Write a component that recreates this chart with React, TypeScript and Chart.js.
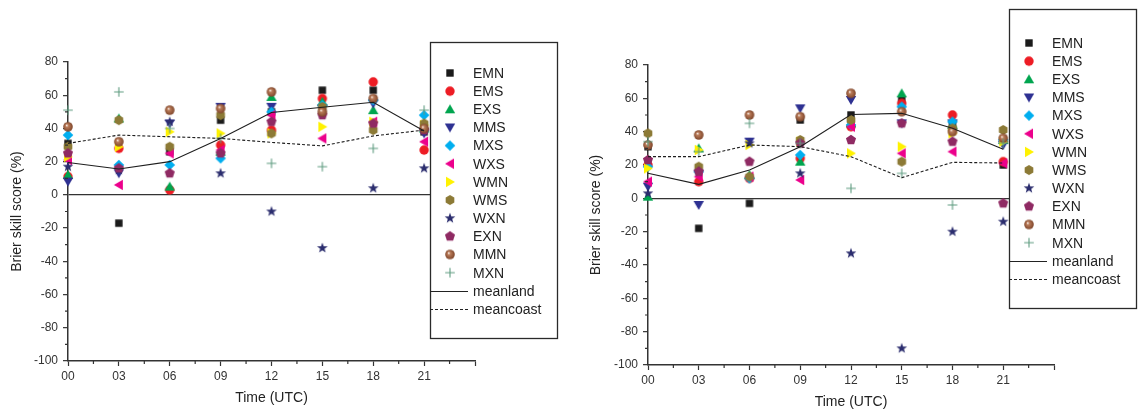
import React, { useEffect, useRef } from 'react';
import { Chart, registerables } from 'chart.js';
Chart.register(...registerables);

Chart.defaults.font.family = '"Liberation Sans", Arial, sans-serif';

// ---------- data ----------
const hours = [0, 3, 6, 9, 12, 15, 18, 21];
const xTickLabels = ['00', '03', '06', '09', '12', '15', '18', '21', ''];
const seriesNames = ['EMN', 'EMS', 'EXS', 'MMS', 'MXS', 'WXS', 'WMN', 'WMS', 'WXN', 'EXN', 'MMN', 'MXN'];

// left panel
const leftEMN = [31, -17, 26, 45, 50, 63, 63, 38];
const leftEMS = [11, 28, 3, 30, 39, 58, 68, 27];
const leftEXS = [12, 46, 5, 26, 59, 56, 51, 40];
const leftMMS = [8, 13, 43, 53, 53, 52, 55, 37];
const leftMXS = [36, 18, 18, 22, 50, 54, 57, 48];
const leftWXS = [21, 6, 25, 27, 48, 34, 44, 32];
const leftWMN = [23, 29, 38, 37, 37, 41, 44, 42];
const leftWMS = [29, 45, 29, 48, 37, 53, 39, 43];
const leftWXN = [17, 15, 44, 13, -10, -32, 4, 16];
const leftEXN = [25, 16, 13, 25, 44, 48, 43, 39];
const leftMMN = [41, 32, 51, 52, 62, 50, 58, 40];
const leftMXN = [51, 62, 40, 34, 19, 17, 28, 51];
const leftMeanland = [19.5, 15.6, 20, 34, 49.6, 52.8, 55.8, 38.5];
const leftMeancoast = [31, 36, 35, 34, 31.6, 29.5, 35.5, 39];

// right panel
const rightEMN = [31, -18, -3, 47, 50, 59, 44, 20];
const rightEMS = [20, 10, 12, 24, 43, 57, 50, 22];
const rightEXS = [1, 30, 14, 22, 45, 63, 44, 35];
const rightMMS = [7, -4, 34, 54, 59, 45, 45, 32];
const rightMXS = [19, 16, 12, 26, 44, 55, 46, 35];
const rightWXS = [10, 13, 13, 11, 43, 27, 28, 21];
const rightWMN = [18, 29, 32, 34, 27, 31, 39, 34];
const rightWMS = [39, 19, 13, 35, 47, 22, 42, 41];
const rightWXN = [3, 16, 33, 15, -33, -90, -20, -14];
const rightEXN = [23, 16, 22, 33, 35, 45, 34, -3];
const rightMMN = [32, 38, 50, 49, 63, 52, 40, 36];
const rightMXN = [34, 28, 45, 33, 6, 15, -4, 33];
const rightMeanland = [15, 8.4, 17, 31, 50.3, 51, 42, 29.5];
const rightMeancoast = [25, 25, 32, 31, 25, 12.4, 21.6, 21.2];

// ---------- styles ----------
const markerKinds = ['square', 'circle', 'up', 'down', 'diamond', 'left', 'right', 'hexagon', 'star', 'pentagon', 'sphere', 'plus'];
const markerColors = ['#1b1b1b', '#ed1c24', '#00a54f', '#2e3192', '#00aeef', '#ec008c', '#fff200', '#8c7a36', '#2b2d6e', '#8f2a63', '#a0613f', '#5f9c80'];

function makeMarker(kind: string, color: string): HTMLCanvasElement {
  const s = 14;
  const c = document.createElement('canvas');
  c.width = s;
  c.height = s;
  const g = c.getContext('2d')!;
  const m = s / 2;
  g.fillStyle = color;
  g.strokeStyle = color;
  const poly = (pts: number[][]) => {
    g.beginPath();
    pts.forEach((p, i) => (i ? g.lineTo(m + p[0], m + p[1]) : g.moveTo(m + p[0], m + p[1])));
    g.closePath();
    g.fill();
  };
  const regular = (n: number, r: number, start: number) => {
    const pts: number[][] = [];
    for (let i = 0; i < n; i++) {
      const a = start + (i * 2 * Math.PI) / n;
      pts.push([r * Math.cos(a), r * Math.sin(a)]);
    }
    poly(pts);
  };
  switch (kind) {
    case 'square':
      g.fillRect(m - 3.7, m - 3.7, 7.4, 7.4);
      break;
    case 'circle':
      g.beginPath();
      g.arc(m, m, 4.7, 0, Math.PI * 2);
      g.fill();
      break;
    case 'up':
      poly([[0, -5], [5.2, 4], [-5.2, 4]]);
      break;
    case 'down':
      poly([[0, 5], [5.2, -4], [-5.2, -4]]);
      break;
    case 'left':
      poly([[-5, 0], [4, -5.2], [4, 5.2]]);
      break;
    case 'right':
      poly([[5, 0], [-4, -5.2], [-4, 5.2]]);
      break;
    case 'diamond':
      poly([[0, -5.3], [5.3, 0], [0, 5.3], [-5.3, 0]]);
      break;
    case 'hexagon':
      regular(6, 5, -Math.PI / 2);
      break;
    case 'pentagon':
      regular(5, 5.3, -Math.PI / 2);
      break;
    case 'star': {
      const pts: number[][] = [];
      for (let i = 0; i < 10; i++) {
        const r = i % 2 === 0 ? 5.6 : 2.3;
        const a = -Math.PI / 2 + (i * Math.PI) / 5;
        pts.push([r * Math.cos(a), r * Math.sin(a)]);
      }
      poly(pts);
      break;
    }
    case 'sphere': {
      const grd = g.createRadialGradient(m - 1.4, m - 1.6, 0.2, m, m, 5);
      grd.addColorStop(0, '#f7ece4');
      grd.addColorStop(0.3, '#b87a58');
      grd.addColorStop(1, '#7c4328');
      g.fillStyle = grd;
      g.beginPath();
      g.arc(m, m, 4.8, 0, Math.PI * 2);
      g.fill();
      break;
    }
    case 'plus':
      g.lineWidth = 1.1;
      g.beginPath();
      g.moveTo(m - 4.8, m);
      g.lineTo(m + 4.8, m);
      g.moveTo(m, m - 4.8);
      g.lineTo(m, m + 4.8);
      g.stroke();
      break;
  }
  return c;
}

const boxLegendPlugin = {
  id: 'boxLegend',
  afterDraw(chart: any, _args: any, opts: any) {
    const { ctx, chartArea } = chart;
    const x0 = Math.round(chartArea.right + opts.dx);
    const y0 = opts.top;
    ctx.save();
    ctx.fillStyle = '#ffffff';
    ctx.fillRect(x0, y0, opts.width, opts.height);
    ctx.strokeStyle = '#2a2a2a';
    ctx.lineWidth = 1.3;
    ctx.strokeRect(x0 + 0.5, y0 + 0.5, opts.width, opts.height);
    ctx.font = '14px "Liberation Sans", Arial, sans-serif';
    ctx.textBaseline = 'middle';
    ctx.fillStyle = '#222';
    chart.data.datasets.forEach((ds: any, i: number) => {
      const y = y0 + opts.firstRow + i * opts.rowHeight;
      if (ds.showLine) {
        ctx.strokeStyle = '#222';
        ctx.lineWidth = 1;
        ctx.setLineDash(ds.borderDash || []);
        ctx.beginPath();
        ctx.moveTo(x0, Math.round(y) + 0.5);
        ctx.lineTo(x0 + 38, Math.round(y) + 0.5);
        ctx.stroke();
        ctx.setLineDash([]);
      } else {
        const img = ds.pointStyle as HTMLCanvasElement;
        ctx.drawImage(img, x0 + 20 - img.width / 2, y - img.height / 2);
      }
      ctx.fillStyle = '#222';
      ctx.fillText(ds.label, x0 + 43, y + 1);
    });
    ctx.restore();
  },
};

const minorTicksPlugin = {
  id: 'minorTicks',
  afterDraw(chart: any) {
    const { ctx, scales } = chart;
    const xs = scales.x;
    const ys = scales.y;
    ctx.save();
    ctx.strokeStyle = '#333';
    ctx.lineWidth = 1.2;
    ctx.beginPath();
    for (let v = 1.5; v < 24; v += 3) {
      const px = xs.getPixelForValue(v);
      ctx.moveTo(px, ys.bottom);
      ctx.lineTo(px, ys.bottom + 3);
    }
    for (let v = -90; v < 80; v += 20) {
      const py = ys.getPixelForValue(v);
      ctx.moveTo(xs.left, py);
      ctx.lineTo(xs.left - 3, py);
    }
    ctx.stroke();
    ctx.restore();
  },
};

interface PanelCfg {
  series: number[][];
  meanland: number[];
  meancoast: number[];
  padTop: number;
  padRight: number;
  xHeight: number;
  yTitlePad: number;
  xTitlePad: number;
  legendTop: number;
  legendHeight: number;
  legendFirstRow: number;
}

function buildConfig(p: PanelCfg): any {
  const n = seriesNames.length;
  const markerDatasets = seriesNames.map((name, i) => ({
    label: name,
    data: hours.map((h, j) => ({ x: h, y: p.series[i][j] })),
    showLine: false,
    pointStyle: makeMarker(markerKinds[i], markerColors[i]),
    pointRadius: 5,
    pointHoverRadius: 5,
    order: n + 2 - i,
    clip: false,
  }));
  const lineDatasets = [
    {
      label: 'meanland',
      data: hours.map((h, j) => ({ x: h, y: p.meanland[j] })),
      showLine: true,
      borderColor: '#1e1e1e',
      borderWidth: 1.1,
      pointRadius: 0,
      order: 1,
      clip: false,
    },
    {
      label: 'meancoast',
      data: hours.map((h, j) => ({ x: h, y: p.meancoast[j] })),
      showLine: true,
      borderColor: '#1e1e1e',
      borderWidth: 1.1,
      borderDash: [3, 2],
      pointRadius: 0,
      order: 0,
      clip: false,
    },
  ];
  return {
    type: 'scatter',
    data: { datasets: [...markerDatasets, ...lineDatasets] },
    plugins: [minorTicksPlugin, boxLegendPlugin],
    options: {
      responsive: false,
      animation: false,
      events: [],
      layout: { padding: { left: 0, top: p.padTop, right: p.padRight, bottom: 0 } },
      plugins: {
        legend: { display: false },
        tooltip: { enabled: false },
        boxLegend: {
          dx: -45,
          top: p.legendTop,
          width: 127,
          height: p.legendHeight,
          firstRow: p.legendFirstRow,
          rowHeight: 18.15,
        },
      },
      scales: {
        x: {
          type: 'linear',
          min: 0,
          max: 24,
          afterFit: (s: any) => {
            s.height = p.xHeight;
          },
          border: { display: true, color: '#333', width: 1.5 },
          grid: { drawOnChartArea: false, drawTicks: true, tickLength: 5, tickColor: '#333', tickWidth: 1.2 },
          ticks: {
            stepSize: 3,
            autoSkip: false,
            maxRotation: 0,
            padding: 3,
            color: '#333',
            font: { size: 12 },
            callback: (v: number) => xTickLabels[Math.round(v / 3)] ?? '',
          },
          title: {
            display: true,
            text: 'Time (UTC)',
            color: '#222',
            font: { size: 14 },
            padding: { top: 0, bottom: p.xTitlePad },
          },
        },
        y: {
          type: 'linear',
          min: -100,
          max: 80,
          afterFit: (s: any) => {
            s.width = 68;
          },
          border: { display: true, color: '#333', width: 1.5 },
          grid: {
            drawOnChartArea: true,
            drawTicks: true,
            tickLength: 5,
            tickColor: '#333',
            tickWidth: 1.2,
            color: (c: any) => (c.tick && c.tick.value === 0 ? '#333' : 'rgba(0,0,0,0)'),
            lineWidth: 1.3,
          },
          ticks: { stepSize: 20, padding: 5, color: '#333', font: { size: 12 } },
          title: {
            display: true,
            text: 'Brier skill score (%)',
            color: '#222',
            font: { size: 14 },
            padding: { top: p.yTitlePad, bottom: 0 },
          },
        },
      },
    },
  };
}

const leftCfg: PanelCfg = {
  series: [leftEMN, leftEMS, leftEXS, leftMMS, leftMXS, leftWXS, leftWMN, leftWMS, leftWXN, leftEXN, leftMMN, leftMXN],
  meanland: leftMeanland,
  meancoast: leftMeancoast,
  padTop: 62,
  padRight: 103,
  xHeight: 50,
  yTitlePad: 9,
  xTitlePad: 4,
  legendTop: 42,
  legendHeight: 296,
  legendFirstRow: 31,
};

const rightCfg: PanelCfg = {
  series: [rightEMN, rightEMS, rightEXS, rightMMS, rightMXS, rightWXS, rightWMN, rightWMS, rightWXN, rightEXN, rightMMN, rightMXN],
  meanland: rightMeanland,
  meancoast: rightMeancoast,
  padTop: 65,
  padRight: 87,
  xHeight: 46,
  yTitlePad: 8,
  xTitlePad: 0,
  legendTop: 9,
  legendHeight: 299,
  legendFirstRow: 34,
};

function Panel({ cfg, left, width }: { cfg: PanelCfg; left: number; width: number }) {
  const ref = useRef<HTMLCanvasElement>(null);
  useEffect(() => {
    const chart = new Chart(ref.current!, buildConfig(cfg));
    return () => chart.destroy();
  }, [cfg]);
  return (
    <div style={{ position: 'absolute', left, top: 0, width, height: 411 }}>
      <canvas ref={ref} width={width} height={411} style={{ display: 'block' }} />
    </div>
  );
}

export default function App() {
  return (
    <div style={{ position: 'fixed', left: 0, top: 0, width: 1141, height: 411, background: '#fff', overflow: 'hidden' }}>
      <Panel cfg={leftCfg} left={0} width={578} />
      <Panel cfg={rightCfg} left={580} width={561} />
    </div>
  );
}
